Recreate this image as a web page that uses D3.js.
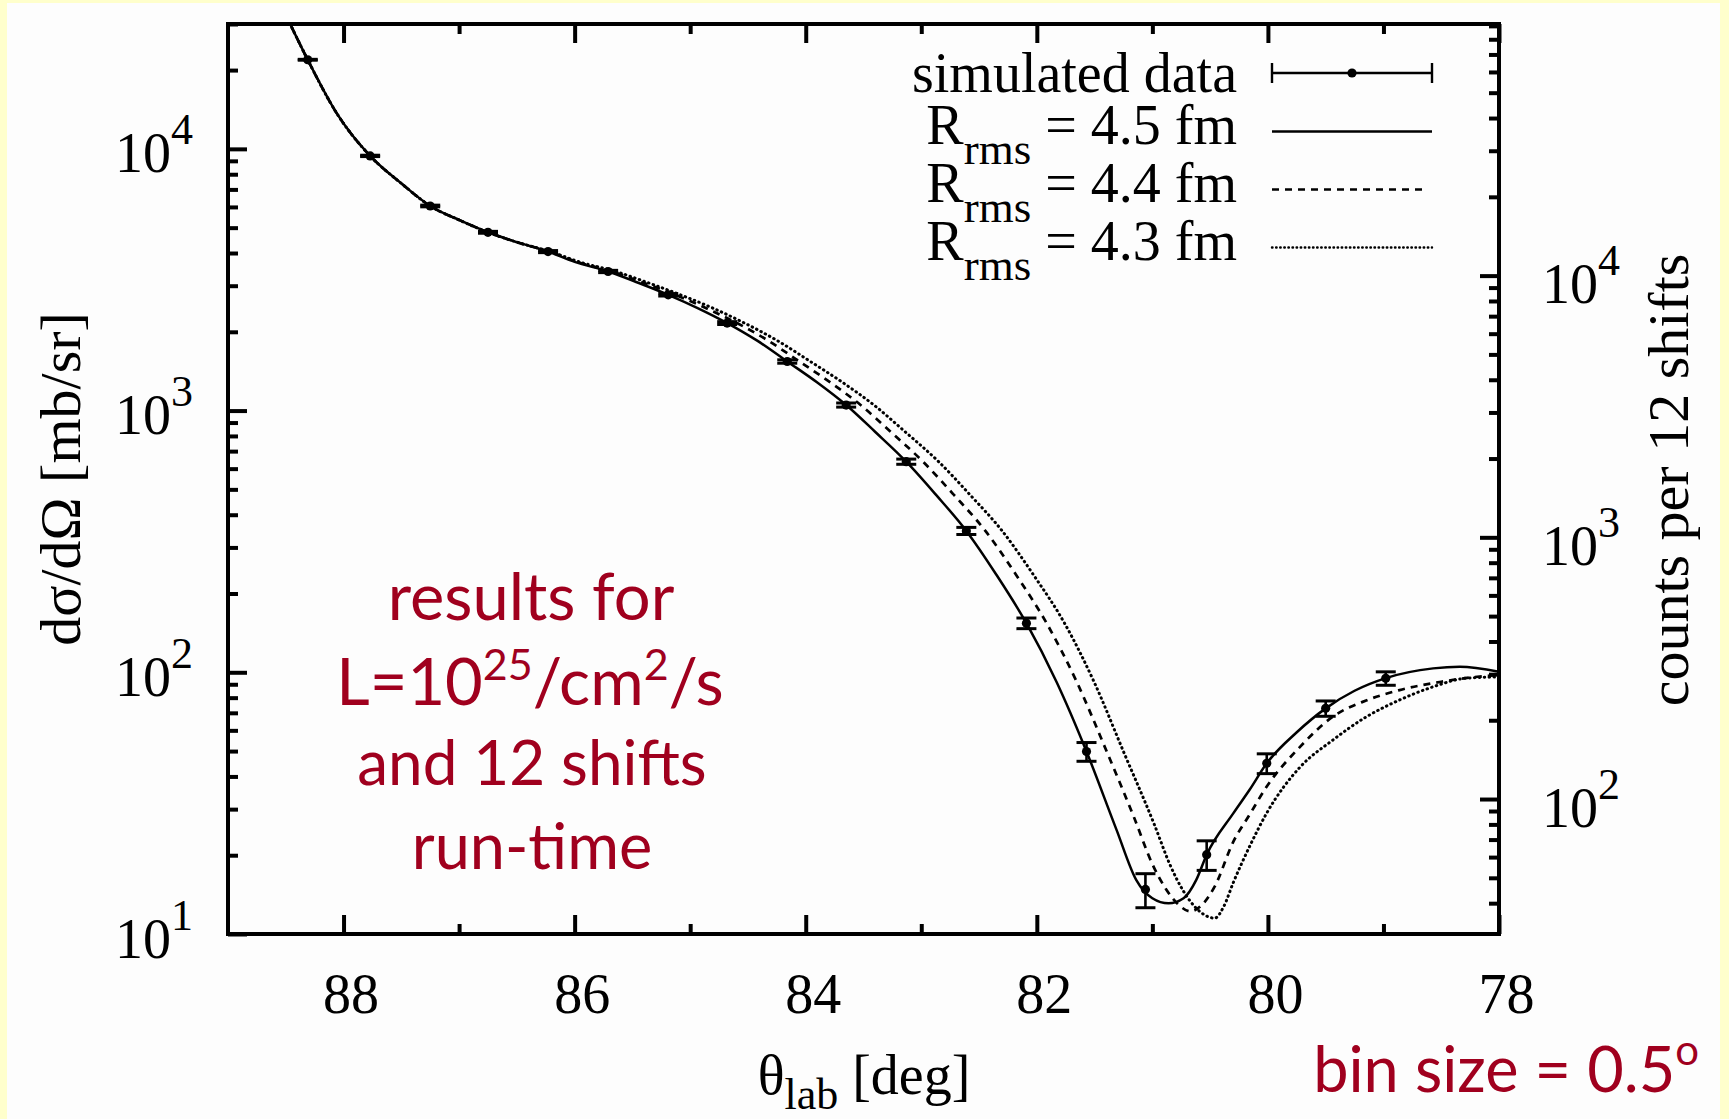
<!DOCTYPE html>
<html>
<head>
<meta charset="utf-8">
<script src="https://cdn.jsdelivr.net/npm/d3@7"></script>
<style>
  html, body { margin: 0; padding: 0; background: #ffffcc; overflow: hidden; }
</style>
</head>
<body>
<script>
// simulated data points (theta_lab in deg, dsigma/dOmega in mb/sr, error)
const thetaData = [88.31, 87.77, 87.25, 86.75, 86.23, 85.71, 85.19, 84.68, 84.16, 83.65, 83.13, 82.61, 82.09, 81.57, 81.06, 80.53, 80.01, 79.50, 78.98]
const sigmaData = [21900, 9400, 6050, 4800, 4050, 3400, 2770, 2160, 1540, 1050, 638, 347, 154, 49.8, 14.8, 20.1, 44.9, 72.8, 94.8]
const errData = [85, 56, 45, 40, 37, 34, 30, 27, 23, 19, 14.6, 10.8, 7.2, 4.1, 2.2, 2.6, 3.9, 4.9, 5.6]

// R_rms = 4.5 fm
const thetaSolid = [88.5, 88.31, 88.06, 87.77, 87.5, 87.25, 87.0, 86.75, 86.5, 86.23, 86.0, 85.71, 85.45, 85.19, 84.94, 84.68, 84.42, 84.16, 83.9, 83.65, 83.4, 83.13, 82.87, 82.61, 82.35, 82.09, 81.83, 81.57, 81.31, 81.14, 81.0, 80.86, 80.73, 80.62, 80.53, 80.3, 80.16, 80.01, 79.75, 79.5, 79.25, 78.98, 78.57, 78.34, 78.0]
const sigmaSolid = [32500, 21900, 13700, 9400, 7380, 6050, 5350, 4800, 4400, 4050, 3700, 3400, 3080, 2770, 2470, 2160, 1850, 1540, 1280, 1050, 830, 638, 475, 347, 236, 154, 92, 49.8, 25, 16.1, 13.7, 13.1, 13.7, 16.1, 20.1, 28.9, 35.5, 44.9, 59, 72.8, 85, 95, 103.5, 105, 100.5]

// R_rms = 4.4 fm
const thetaDashed = [88.5, 88.31, 88.06, 87.77, 87.5, 87.25, 87.0, 86.75, 86.5, 86.22, 85.98, 85.68, 85.405, 85.13, 84.87, 84.595, 84.325, 84.055, 83.785, 83.525, 83.265, 82.985, 82.715, 82.445, 82.18, 81.915, 81.655, 81.395, 81.16, 81.0, 80.88, 80.77, 80.67, 80.58, 80.46, 80.3, 80.16, 80.01, 79.72, 79.44, 79.15, 78.86, 78.5, 78.25, 78.0]
const sigmaDashed = [32500, 21900, 13700, 9400, 7380, 6050, 5350, 4800, 4400, 4050, 3700, 3400, 3080, 2770, 2470, 2160, 1850, 1540, 1280, 1050, 830, 638, 475, 347, 236, 154, 92, 49.8, 28, 18.5, 14.8, 12.9, 12.2, 12.8, 15.2, 22.5, 28.5, 36.6, 52, 67.6, 78, 85.5, 92, 95.5, 97.7]

// R_rms = 4.3 fm
const thetaDotted = [88.5, 88.31, 88.06, 87.77, 87.5, 87.25, 87.0, 86.75, 86.5, 86.21, 85.96, 85.645, 85.365, 85.085, 84.81, 84.53, 84.245, 83.96, 83.68, 83.41, 83.14, 82.85, 82.575, 82.3, 82.03, 81.76, 81.505, 81.25, 80.98, 80.85, 80.74, 80.6, 80.46, 80.38, 80.3, 80.15, 80.01, 79.72, 79.44, 79.15, 78.86, 78.57, 78.28, 78.0]
const sigmaDotted = [32500, 21900, 13700, 9400, 7380, 6050, 5350, 4800, 4400, 4050, 3700, 3400, 3080, 2770, 2470, 2160, 1850, 1540, 1280, 1050, 830, 638, 475, 347, 236, 154, 92, 49.8, 26, 18.5, 14.8, 12.3, 11.5, 12.8, 15.7, 22, 29, 43.5, 55, 67.5, 78.4, 88, 95, 96]

const xMajor = [88, 86, 84, 82, 80, 78]
const xMinor = [87, 85, 83, 81, 79]
const radii = ['4.5', '4.4', '4.3']

const W = 1729
const H = 1119
const pLeft = 228
const pRight = 1499
const pTop = 24
const pBottom = 934
const serif = '"Liberation Serif", "Times New Roman", serif'
const red = '#a0001e'

const svg = d3.select('body').append('svg')
  .attr('width', W)
  .attr('height', H)

svg.append('rect').attr('width', W).attr('height', H).attr('fill', '#ffffcc')
svg.append('rect').attr('x', 7).attr('y', 3).attr('width', 1713).attr('height', H).attr('fill', '#fdfdfd')

const x = d3.scaleLinear().domain([89, 78]).range([pLeft, pRight])
const y = d3.scaleLog().domain([10, 30000]).range([pBottom, pTop])
// counts per 12 shifts are ~3.05 x the cross section
const y2 = d3.scaleLog().domain([30.5, 91500]).range([pBottom, pTop])

const isPow = d => Math.abs(Math.log10(d) - Math.round(Math.log10(d))) < 1e-6

function styleAxis (g) {
  g.select('.domain').remove()
  g.selectAll('.tick line').attr('stroke', '#000').attr('stroke-width', 4)
  g.selectAll('text').attr('font-family', serif).attr('font-size', 56).attr('fill', '#000')
}

function powLabels (g, yy) {
  g.selectAll('.tick text').each(function (d) {
    const t = d3.select(this)
    t.text('10').attr('dy', null).attr('y', yy)
    t.append('tspan').attr('dy', -28).attr('font-size', 44).text(Math.round(Math.log10(d)))
  })
}

// x axes (bottom with labels, top ticks only)
svg.append('g')
  .attr('transform', 'translate(0,' + pBottom + ')')
  .call(d3.axisBottom(x).tickValues(xMajor).tickSize(-19).tickPadding(39).tickFormat(d3.format('d')))
  .call(styleAxis)
  .selectAll('text').attr('dx', 7)
svg.append('g')
  .attr('transform', 'translate(0,' + pBottom + ')')
  .call(d3.axisBottom(x).tickValues(xMinor).tickSize(-10).tickFormat(''))
  .call(styleAxis)
svg.append('g')
  .attr('transform', 'translate(0,' + pTop + ')')
  .call(d3.axisTop(x).tickValues(xMajor).tickSize(-19).tickFormat(''))
  .call(styleAxis)
svg.append('g')
  .attr('transform', 'translate(0,' + pTop + ')')
  .call(d3.axisTop(x).tickValues(xMinor).tickSize(-10).tickFormat(''))
  .call(styleAxis)

// left axis
const yTicks = y.ticks()
svg.append('g')
  .attr('transform', 'translate(' + pLeft + ',0)')
  .call(d3.axisLeft(y).tickValues(yTicks.filter(isPow)).tickSize(-19).tickPadding(35).tickFormat(() => '10'))
  .call(styleAxis)
  .call(g => powLabels(g, 23))
svg.append('g')
  .attr('transform', 'translate(' + pLeft + ',0)')
  .call(d3.axisLeft(y).tickValues(yTicks.filter(d => !isPow(d))).tickSize(-10).tickFormat(''))
  .call(styleAxis)

// right axis
const y2Ticks = y2.ticks()
svg.append('g')
  .attr('transform', 'translate(' + pRight + ',0)')
  .call(d3.axisRight(y2).tickValues(y2Ticks.filter(isPow)).tickSize(-19).tickPadding(43).tickFormat(() => '10'))
  .call(styleAxis)
  .call(g => powLabels(g, 27))
svg.append('g')
  .attr('transform', 'translate(' + pRight + ',0)')
  .call(d3.axisRight(y2).tickValues(y2Ticks.filter(d => !isPow(d))).tickSize(-10).tickFormat(''))
  .call(styleAxis)

// curves
svg.append('clipPath').attr('id', 'plot-clip')
  .append('rect').attr('x', pLeft).attr('y', pTop).attr('width', pRight - pLeft).attr('height', pBottom - pTop)

const lineFn = d3.line()
  .x(d => x(d[0]))
  .y(d => y(d[1]))
  .curve(d3.curveMonotoneX)

const curves = [
  { th: thetaSolid, s: sigmaSolid, dash: null, cap: 'butt', w: 2.5 },
  { th: thetaDashed, s: sigmaDashed, dash: '7,6', cap: 'butt', w: 2.7 },
  { th: thetaDotted, s: sigmaDotted, dash: '0.5,4.4', cap: 'round', w: 3 }
]

const plot = svg.append('g').attr('clip-path', 'url(#plot-clip)')
curves.forEach(c => {
  plot.append('path')
    .attr('d', lineFn(c.th.map((t, i) => [t, c.s[i]])))
    .attr('fill', 'none')
    .attr('stroke', '#000')
    .attr('stroke-width', c.w)
    .attr('stroke-linecap', c.cap)
    .attr('stroke-dasharray', c.dash)
})

// data points with error bars
const pts = thetaData.map((t, i) => ({ t, v: sigmaData[i], e: errData[i] }))
const pg = plot.selectAll('g.pt').data(pts).enter().append('g').attr('class', 'pt')
pg.append('line')
  .attr('x1', d => x(d.t)).attr('x2', d => x(d.t))
  .attr('y1', d => y(d.v - d.e)).attr('y2', d => y(d.v + d.e))
  .attr('stroke', '#000').attr('stroke-width', 2.6)
pg.append('line')
  .attr('x1', d => x(d.t) - 10).attr('x2', d => x(d.t) + 10)
  .attr('y1', d => y(d.v + d.e)).attr('y2', d => y(d.v + d.e))
  .attr('stroke', '#000').attr('stroke-width', 3)
pg.append('line')
  .attr('x1', d => x(d.t) - 10).attr('x2', d => x(d.t) + 10)
  .attr('y1', d => y(d.v - d.e)).attr('y2', d => y(d.v - d.e))
  .attr('stroke', '#000').attr('stroke-width', 3)
pg.append('circle')
  .attr('cx', d => x(d.t)).attr('cy', d => y(d.v)).attr('r', 4.6)
  .attr('fill', '#000')

// frame
svg.append('rect')
  .attr('x', pLeft).attr('y', pTop)
  .attr('width', pRight - pLeft).attr('height', pBottom - pTop)
  .attr('fill', 'none').attr('stroke', '#000').attr('stroke-width', 4)

// legend
const lg = svg.append('g').attr('font-family', serif).attr('font-size', 56).attr('fill', '#000')
const lx1 = 1272
const lx2 = 1432
const ltx = 1237
lg.append('text').attr('x', ltx).attr('y', 91.5).attr('text-anchor', 'end').text('simulated data')
lg.append('line').attr('x1', lx1).attr('x2', lx2).attr('y1', 73).attr('y2', 73).attr('stroke', '#000').attr('stroke-width', 2.4)
lg.append('line').attr('x1', lx1).attr('x2', lx1).attr('y1', 63).attr('y2', 83).attr('stroke', '#000').attr('stroke-width', 2.4)
lg.append('line').attr('x1', lx2).attr('x2', lx2).attr('y1', 63).attr('y2', 83).attr('stroke', '#000').attr('stroke-width', 2.4)
lg.append('circle').attr('cx', 1352).attr('cy', 73).attr('r', 4.6).attr('fill', '#000')

radii.forEach((r, i) => {
  const ly = 131.5 + i * 58
  const t = lg.append('text').attr('x', ltx).attr('y', ly + 12).attr('text-anchor', 'end')
  t.append('tspan').text('R')
  t.append('tspan').attr('dy', 20).attr('font-size', 45).text('rms')
  t.append('tspan').attr('dy', -20).text(' = ' + r + ' fm')
  lg.append('line')
    .attr('x1', lx1).attr('x2', lx2 - (i === 1 ? 6 : 0))
    .attr('y1', ly).attr('y2', ly)
    .attr('stroke', '#000').attr('stroke-width', 2.4)
    .attr('stroke-linecap', curves[i].cap)
    .attr('stroke-dasharray', i === 2 ? '0.5,3.6' : curves[i].dash)
})

// axis titles
const xt = svg.append('text')
  .attr('x', 864).attr('y', 1094)
  .attr('text-anchor', 'middle')
  .attr('font-family', serif).attr('font-size', 56)
xt.append('tspan').text('θ')
xt.append('tspan').attr('dy', 15).attr('font-size', 44).text('lab')
xt.append('tspan').attr('dy', -15).text(' [deg]')

svg.append('text')
  .attr('transform', 'translate(80,479) rotate(-90)')
  .attr('text-anchor', 'middle')
  .attr('font-family', serif).attr('font-size', 58)
  .text('dσ/dΩ [mb/sr]')

svg.append('text')
  .attr('transform', 'translate(1688,480) rotate(-90)')
  .attr('text-anchor', 'middle')
  .attr('font-family', serif).attr('font-size', 58)
  .text('counts per 12 shifts')

// red annotations
const ann = svg.append('g')
  .attr('font-family', 'Lato, "Open Sans", sans-serif')
  .attr('font-size', 64)
  .attr('fill', red)
  .attr('text-anchor', 'middle')
ann.append('text').attr('x', 531).attr('y', 620).attr('font-size', 65).text('results for')
const lum = ann.append('text').attr('x', 530).attr('y', 705).attr('font-size', 65)
lum.append('tspan').text('L=10')
lum.append('tspan').attr('dy', -25).attr('font-size', 43).text('25')
lum.append('tspan').attr('dy', 25).text('/cm')
lum.append('tspan').attr('dy', -25).attr('font-size', 43).text('2')
lum.append('tspan').attr('dy', 25).text('/s')
ann.append('text').attr('x', 532).attr('y', 785).attr('font-size', 62).text('and 12 shifts')
ann.append('text').attr('x', 532).attr('y', 869).attr('font-size', 63).text('run-time')

const bin = ann.append('text').attr('x', 1699).attr('y', 1092).attr('text-anchor', 'end').attr('font-size', 63)
bin.append('tspan').text('bin size = 0.5')
bin.append('tspan').attr('dy', -27).attr('font-size', 42).text('o')
</script>
</body>
</html>
